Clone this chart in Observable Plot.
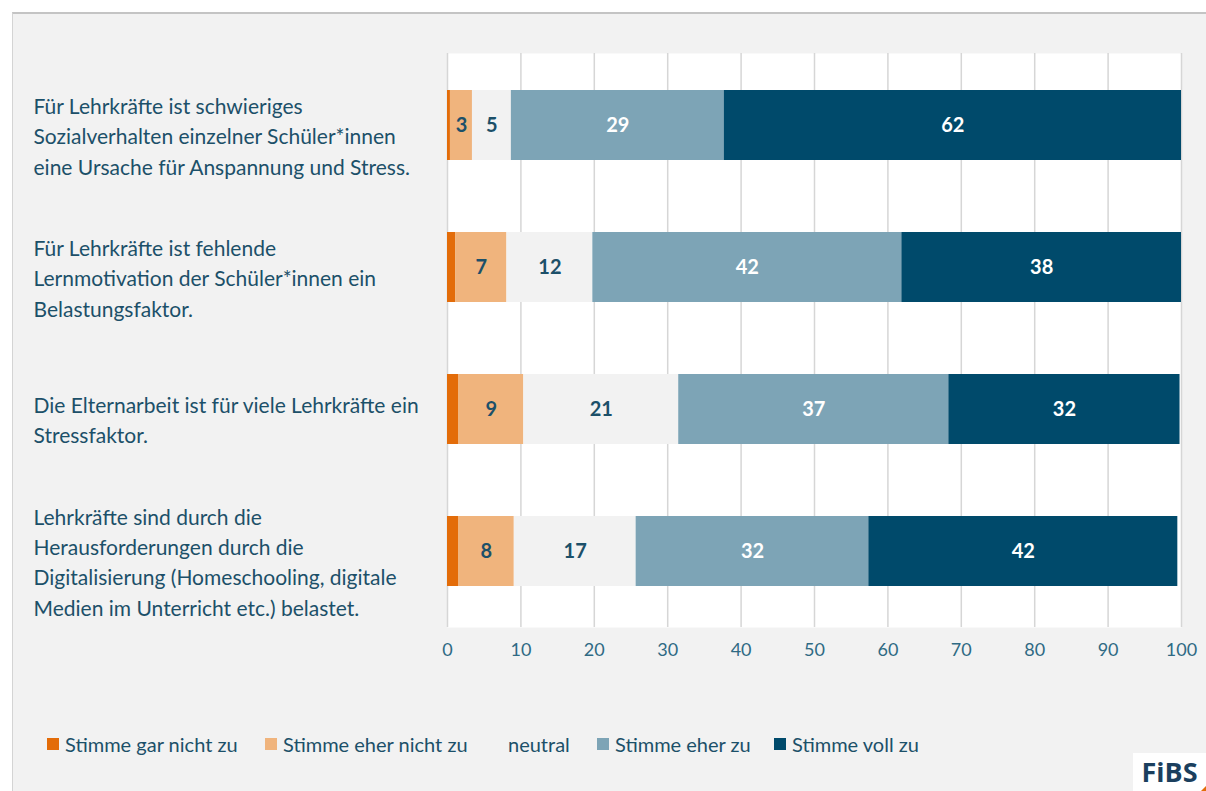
<!DOCTYPE html>
<html>
<head>
<meta charset="utf-8">
<script src="https://cdn.jsdelivr.net/npm/d3@7"></script>
<script src="https://cdn.jsdelivr.net/npm/@observablehq/plot@0.6"></script>
<style>
  html, body { margin: 0; padding: 0; background: #ffffff; width: 1206px; height: 791px; overflow: hidden; }
  #frame { position: absolute; left: 12px; top: 12px; width: 1194px; height: 779px; background: #f2f2f2;
           border-top: 2px solid #c4c4c4; border-left: 1px solid #d4d4d4; box-sizing: border-box; }
  #chart { position: absolute; left: 0; top: 0; }
  #legend { position: absolute; top: 732px; left: 0; width: 1206px; height: 24px; font-family: Lato, sans-serif;
            font-size: 20px; color: #1c5069; }
  .item { position: absolute; top: 0; display: flex; align-items: center; white-space: nowrap; }
  .sw { width: 12px; height: 12px; margin-right: 6px; display: inline-block; }
  #logo { position: absolute; left: 1133px; top: 753px; width: 73px; height: 38px; background: #ffffff;
          font-family: "Open Sans", sans-serif; font-weight: 700; font-size: 27px; color: #1b3f5e; line-height: 38px; text-align: center; }
  #logo .acc { position: absolute; right: 0; bottom: 0; width: 0; height: 0;
               border-left: 5px solid transparent; border-bottom: 5px solid #e36c09; }
</style>
</head>
<body>
<div id="frame"></div>
<div id="chart"></div>
<div id="legend"></div>
<div id="logo">FiBS<span class="acc"></span></div>
<script>
// Categories (statements)
const categories = [
  "Für Lehrkräfte ist schwieriges\nSozialverhalten einzelner Schüler*innen\neine Ursache für Anspannung und Stress.",
  "Für Lehrkräfte ist fehlende\nLernmotivation der Schüler*innen ein\nBelastungsfaktor.",
  "Die Elternarbeit ist für viele Lehrkräfte ein\nStressfaktor.",
  "Lehrkräfte sind durch die\nHerausforderungen durch die\nDigitalisierung (Homeschooling, digitale\nMedien im Unterricht etc.) belastet."
];
// Response levels
const levels = ["Stimme gar nicht zu", "Stimme eher nicht zu", "neutral", "Stimme eher zu", "Stimme voll zu"];
// Series values (percent), one per level, in category order
const garNicht  = [0.4, 1.1, 1.5, 1.5];
const eherNicht = [3.0, 7.0, 8.9, 7.6];
const neutral   = [5.3, 11.7, 21.1, 16.6];
const eherZu    = [29.0, 42.1, 36.8, 31.7];
const vollZu    = [62.3, 38.1, 31.5, 42.1];
// Tick labels
const xTicks = [0, 10, 20, 30, 40, 50, 60, 70, 80, 90, 100];

const colors = ["#e36c09", "#f0b47d", "#f2f2f2", "#7da4b6", "#004a6b"];
const series = [garNicht, eherNicht, neutral, eherZu, vollZu];

const rows = [];
categories.forEach((c, i) => {
  levels.forEach((l, j) => rows.push({cat: c, level: l, j, value: series[j][i]}));
});

const textDark = "#1c5069";
const stackOpts = (text) => Plot.stackX({x: "value", y: "cat", z: "level", order: levels, text});

const chart = Plot.plot({
  width: 1206,
  height: 680,
  marginLeft: 447,
  marginRight: 25,
  marginTop: 49,
  marginBottom: 53,
  style: {background: "transparent", fontFamily: "Lato, sans-serif"},
  x: {domain: [0, 100], ticks: xTicks, axis: null},
  y: {domain: categories, paddingInner: 0.507, paddingOuter: 0.275, axis: null},
  color: {domain: levels, range: colors},
  marks: [
    Plot.frame({fill: "#ffffff", stroke: null, insetTop: 4}),
    Plot.ruleX(xTicks, {stroke: "#d6d6d6", strokeWidth: 1.5, insetTop: 4}),
    Plot.barX(rows, Plot.stackX({x: "value", y: "cat", fill: "level", order: levels})),
    Plot.text(rows, {...stackOpts(d => (d.j === 1 || d.j === 2) ? String(Math.round(d.value)) : null),
      fill: textDark, fontWeight: "bold", fontSize: 20}),
    Plot.text(rows, {...stackOpts(d => (d.j >= 3) ? String(Math.round(d.value)) : null),
      fill: "#ffffff", fontWeight: "bold", fontSize: 20}),
    // Category labels on the left
    Plot.text(categories, {y: d => d, text: d => d, frameAnchor: "left", textAnchor: "start",
      dx: -414, dy: 9, lineHeight: 1.45, fontSize: 21, fill: textDark}),
    // X tick labels
    Plot.text(xTicks, {x: d => d, text: d => String(d), frameAnchor: "bottom", dy: 28,
      fontSize: 18, fill: "#2f6a84"})
  ]
});
document.getElementById("chart").appendChild(chart);

// Legend
const legendX = [47, 265, 478, 597, 774];
const legend = document.getElementById("legend");
levels.forEach((l, j) => {
  const it = document.createElement("div");
  it.className = "item";
  it.style.left = legendX[j] + "px";
  const sw = document.createElement("span");
  sw.className = "sw";
  sw.style.background = colors[j];
  it.appendChild(sw);
  const t = document.createElement("span");
  t.textContent = l;
  if (j === 2) t.style.marginLeft = "12px";
  it.appendChild(t);
  legend.appendChild(it);
});
</script>
</body>
</html>
